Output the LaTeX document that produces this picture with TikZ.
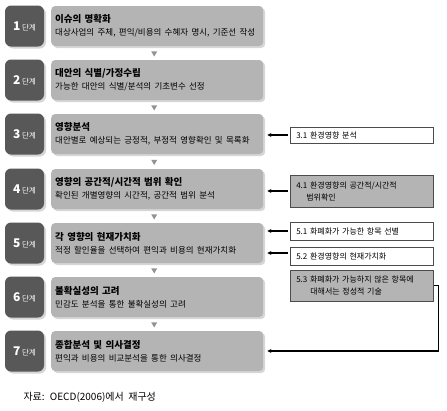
\documentclass[tikz,border=0pt]{standalone}
\usepackage{fontspec}
\setmainfont{Noto Sans CJK KR}
\usetikzlibrary{shapes.geometric,shadows,calc,arrows.meta}
\definecolor{stepgray}{RGB}{88,88,88}
\definecolor{boxgray}{RGB}{180,180,180}
\definecolor{shadegray}{RGB}{214,214,214}

\newcommand{\stepno}[1]{{\fontsize{12}{12}\selectfont\bfseries #1}\,{\fontsize{7.5}{8}\selectfont 단계}}
\newcommand{\mtext}[2]{{\fontsize{9.5}{12}\selectfont\bfseries #1}\\[1pt]{\fontsize{8.5}{11}\selectfont #2}}

\tikzset{
  stepbox/.style={rectangle, rounded corners=6pt, fill=stepgray, text=white,
    minimum width=39pt, minimum height=41pt, inner sep=0pt,
    drop shadow={shadow xshift=2pt, shadow yshift=-2pt, fill=shadegray, opacity=1}},
  mainbox/.style={rectangle, rounded corners=4pt, fill=boxgray, anchor=west,
    minimum width=212pt, minimum height=40pt, text width=204pt, align=left, inner sep=0pt,
    drop shadow={shadow xshift=2pt, shadow yshift=-2pt, fill=shadegray, opacity=1}},
  sidebox/.style={rectangle, draw=gray!60!black, line width=0.6pt, anchor=west,
    minimum width=143pt, text width=137pt, align=left, inner sep=0pt,
    font=\fontsize{8}{12}\selectfont},
  tri/.style={regular polygon, regular polygon sides=3, shape border rotate=180,
    fill=gray!85, inner sep=0pt, minimum size=7pt},
  link/.style={-{Stealth[length=4pt,width=4pt]}, line width=1.1pt, shorten >=4pt, shorten <=2pt},
}

\begin{document}
\begin{tikzpicture}[x=1pt, y=-1pt]
    \useasboundingbox (0,0) rectangle (447,410);

    % steps
    \node[stepbox] (s1) at (24.5, 26)  {\stepno{1}};
    \node[stepbox] (s2) at (24.5, 80)  {\stepno{2}};
    \node[stepbox] (s3) at (24.5, 134) {\stepno{3}};
    \node[stepbox] (s4) at (24.5, 189) {\stepno{4}};
    \node[stepbox] (s5) at (24.5, 243) {\stepno{5}};
    \node[stepbox] (s6) at (24.5, 297) {\stepno{6}};
    \node[stepbox] (s7) at (24.5, 351) {\stepno{7}};

    \node[mainbox] (m1) at (51, 26)  {\mtext{이슈의 명확화}{대상사업의 주체, 편익/비용의 수혜자 명시, 기준선 작성}};
    \node[mainbox] (m2) at (51, 80)  {\mtext{대안의 식별/가정수립}{가능한 대안의 식별/분석의 기초변수 선정}};
    \node[mainbox] (m3) at (51, 134) {\mtext{영향분석}{대안별로 예상되는 긍정적, 부정적 영향확인 및 목록화}};
    \node[mainbox] (m4) at (51, 189) {\mtext{영향의 공간적/시간적 범위 확인}{확인된 개별영향의 시간적, 공간적 범위 분석}};
    \node[mainbox] (m5) at (51, 243) {\mtext{각 영향의 현재가치화}{적정 할인율을 선택하여 편익과 비용의 현재가치화}};
    \node[mainbox] (m6) at (51, 297) {\mtext{불확실성의 고려}{민감도 분석을 통한 불확실성의 고려}};
    \node[mainbox] (m7) at (51, 351) {\mtext{종합분석 및 의사결정}{편익과 비용의 비교분석을 통한 의사결정}};

    \foreach \a/\b in {1/2, 2/3, 3/4, 4/5, 5/6, 6/7}
        \node[tri] (t\a) at ($(m\a.south)!.5!(m\b.north) + (-3,0)$) {};

    % side boxes
    \node[sidebox, minimum height=16pt] (r31) at (290, 135) {\hspace*{3pt}3.1 환경영향 분석};
    \node[sidebox, minimum height=32pt, fill=boxgray] (r41) at (290, 191)
        {\hspace*{3pt}4.1 환경영향의 공간적/시간적\\\hspace*{13pt}범위확인};
    \node[sidebox, minimum height=18pt] (r51) at (290, 231) {\hspace*{3pt}5.1 화폐화가 가능한 항목 선별};
    \node[sidebox, minimum height=18pt] (r52) at (290, 256) {\hspace*{3pt}5.2 환경영향의 현재가치화};
    \node[sidebox, minimum height=31pt, fill=boxgray] (r53) at (290, 285.5)
        {\hspace*{3pt}5.3 화폐화가 가능하지 않은 항목에\\\hspace*{17pt}대해서는 정성적 기술};

    \draw[link] (r31.west) -- (r31.west -| m3.east);
    \draw[link] (r41.west) -- (r41.west -| m4.east);
    \draw[link] (r51.west) -- (r51.west -| m5.east);
    \draw[link] ([yshift=3pt]r52.west) -- ([yshift=3pt]r52.west -| m5.east);
    \draw[link, line width=1.4pt, shorten <=0pt] (r53.east) -- ++(5,0) |- (m7.east);

    \node[anchor=west, font=\fontsize{10}{12}\selectfont] (src) at (20, 397) {자료:~ OECD(2006)에서~ 재구성};
\end{tikzpicture}
\end{document}
